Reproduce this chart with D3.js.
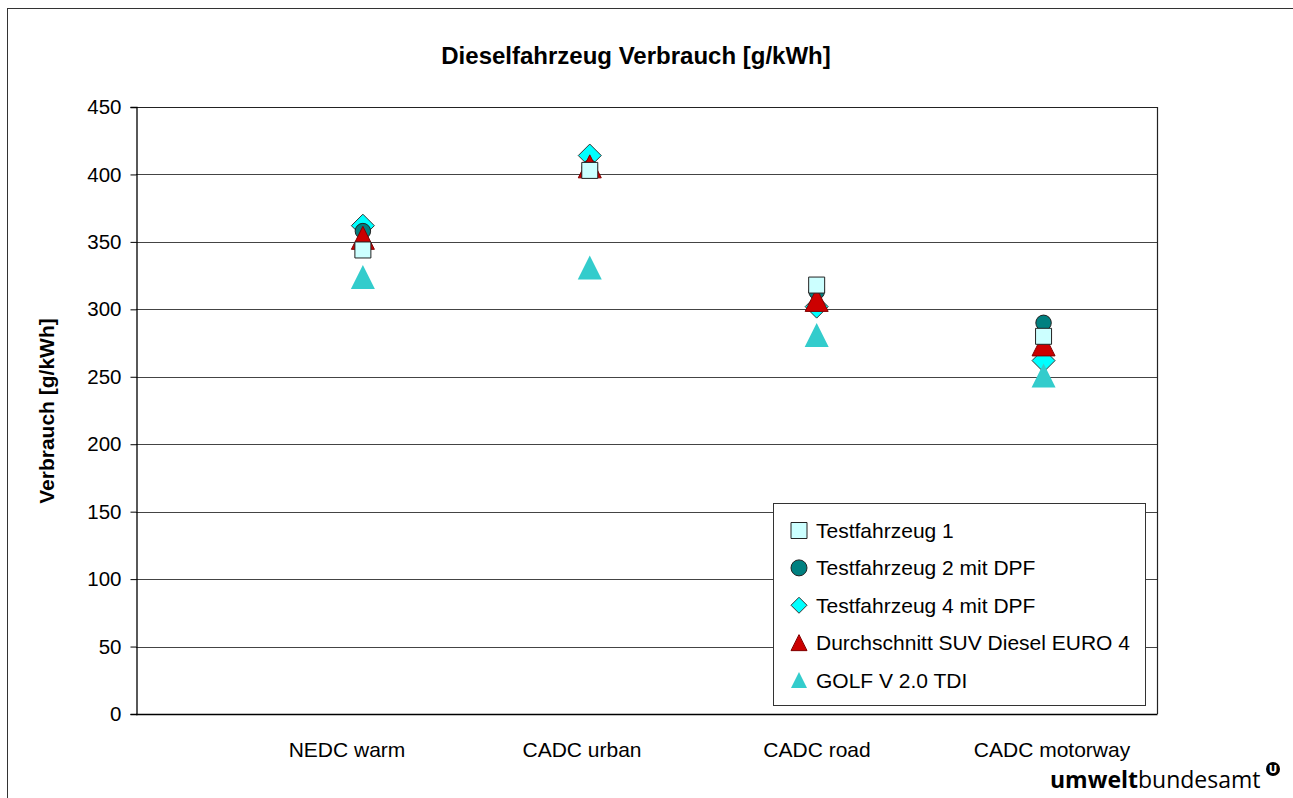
<!DOCTYPE html>
<html>
<head>
<meta charset="utf-8">
<script src="https://cdn.jsdelivr.net/npm/d3@7"></script>
<style>
html,body{margin:0;padding:0;background:#fff;}
svg{display:block;font-family:"Liberation Sans",Arial,sans-serif;}
</style>
</head>
<body>
<svg id="chart" width="1293" height="798"></svg>
<script>
const categories = ["NEDC warm", "CADC urban", "CADC road", "CADC motorway"];
const seriesNames = ["Testfahrzeug 1", "Testfahrzeug 2 mit DPF", "Testfahrzeug 4 mit DPF", "Durchschnitt SUV Diesel EURO 4", "GOLF V 2.0 TDI"];
const testfahrzeug1 = [344, 403, 318, 280];
const testfahrzeug2 = [358, 405, 313, 290];
const testfahrzeug4 = [362, 414, 302, 262];
const durchschnittSUV = [353, 406, 307, 274];
const golfV = [324, 331, 281, 251];
const yTicks = [0, 50, 100, 150, 200, 250, 300, 350, 400, 450];

const svg = d3.select("#chart");
const W = 1293, H = 798;
const plot = {left: 136, right: 1157, top: 107, bottom: 714};

const x = d3.scaleLinear().domain([-1, 3.5]).range([plot.left, plot.right]);
const xLabel = d3.scaleLinear().domain([0, 3]).range([347, 1052]);
const y = d3.scaleLinear().domain([0, 450]).range([plot.bottom, plot.top]);

// outer chart border
svg.append("rect").attr("x", 7.5).attr("y", 8.5).attr("width", W + 10).attr("height", H + 10)
  .attr("fill", "#fff").attr("stroke", "#333").attr("stroke-width", 1);

// title
svg.append("text").attr("x", 636).attr("y", 64).attr("text-anchor", "middle")
  .attr("font-weight", "bold").attr("font-size", 24).attr("fill", "#000")
  .text("Dieselfahrzeug Verbrauch [g/kWh]");

// gridlines
svg.append("g").selectAll("line").data(yTicks.filter(d => d > 0 && d < 450)).join("line")
  .attr("x1", plot.left).attr("x2", plot.right)
  .attr("y1", d => Math.round(y(d)) + 0.5).attr("y2", d => Math.round(y(d)) + 0.5)
  .attr("stroke", "#444").attr("stroke-width", 1);

// plot border top/right
svg.append("path")
  .attr("d", `M${plot.left},${plot.top + 0.5}H${plot.right + 0.5}V${plot.bottom}`)
  .attr("fill", "none").attr("stroke", "#222").attr("stroke-width", 1.2);

// y axis
const yAxis = d3.axisLeft(y).tickValues(yTicks).tickSize(6).tickPadding(9).tickFormat(d3.format("d"));
const gy = svg.append("g").attr("transform", `translate(${plot.left + 0.5},0)`).call(yAxis);
gy.select(".domain").attr("stroke", "#000").attr("stroke-width", 1.3);
gy.selectAll(".tick line").attr("stroke", "#000");
gy.selectAll(".tick text").attr("font-size", 20.5).attr("font-family", "Liberation Sans, Arial, sans-serif").attr("fill", "#000");

// x axis line
svg.append("line").attr("x1", plot.left).attr("x2", plot.right + 0.5)
  .attr("y1", plot.bottom + 0.5).attr("y2", plot.bottom + 0.5)
  .attr("stroke", "#000").attr("stroke-width", 1.3);

// x labels
svg.append("g").selectAll("text").data(categories).join("text")
  .attr("x", (d, i) => xLabel(i)).attr("y", 757).attr("text-anchor", "middle")
  .attr("font-size", 21).attr("fill", "#000").text(d => d);

// y axis title
svg.append("text").attr("transform", `translate(54,411) rotate(-90)`)
  .attr("text-anchor", "middle").attr("font-weight", "bold").attr("font-size", 21)
  .attr("fill", "#000").text("Verbrauch [g/kWh]");

// marker shapes
function markerPath(type, s) {
  if (type === "square") return `M${-s/2},${-s/2}h${s}v${s}h${-s}Z`;
  if (type === "diamond") return `M0,${-s/2}L${s/2},0L0,${s/2}L${-s/2},0Z`;
  if (type === "triangle") return `M0,${-s/2}L${s/2},${s/2}L${-s/2},${s/2}Z`;
  if (type === "circle") { const r = s/2; return `M${r},0A${r},${r} 0 1,1 ${-r},0A${r},${r} 0 1,1 ${r},0Z`; }
}

const series = [
  {name: seriesNames[0], values: testfahrzeug1, type: "square", size: 16, lsize: 16, fill: "#CCFFFF", stroke: "#222"},
  {name: seriesNames[1], values: testfahrzeug2, type: "circle", size: 15.5, lsize: 16, fill: "#008080", stroke: "#222"},
  {name: seriesNames[2], values: testfahrzeug4, type: "diamond", size: 23, lsize: 16, fill: "#00FFFF", stroke: "#333"},
  {name: seriesNames[3], values: durchschnittSUV, type: "triangle", size: 23, lsize: 16, fill: "#CC0000", stroke: "#800000"},
  {name: seriesNames[4], values: golfV, type: "triangle", size: 24, lsize: 16, fill: "#33CCCC", stroke: "none"}
];

// draw order (back to front): diamond, circle, red triangle, square, golf
const drawOrder = [2, 1, 3, 0, 4];
drawOrder.forEach(si => {
  const s = series[si];
  svg.append("g").selectAll("path").data(s.values).join("path")
    .attr("transform", (d, i) => `translate(${x(i)},${y(d)})`)
    .attr("d", markerPath(s.type, s.size))
    .attr("fill", s.fill).attr("stroke", s.stroke).attr("stroke-width", 1);
});

// legend
const lg = svg.append("g");
lg.append("rect").attr("x", 773.5).attr("y", 503.5).attr("width", 372).attr("height", 202)
  .attr("fill", "#fff").attr("stroke", "#333").attr("stroke-width", 1);
const rowY = d3.scaleLinear().domain([0, 4]).range([530.5, 680]);
series.forEach((s, i) => {
  lg.append("path").attr("transform", `translate(799,${rowY(i)})`)
    .attr("d", markerPath(s.type, s.lsize))
    .attr("fill", s.fill).attr("stroke", s.stroke).attr("stroke-width", 1);
  lg.append("text").attr("x", 816).attr("y", rowY(i)).attr("dy", "0.36em")
    .attr("font-size", 21).attr("fill", "#000").text(s.name);
});

// logo
const logo = svg.append("text").attr("x", 1050).attr("y", 788)
  .attr("font-family", "Open Sans, DejaVu Sans, sans-serif").attr("font-size", 23).attr("fill", "#000");
logo.append("tspan").attr("font-weight", "bold").text("umwelt");
logo.append("tspan").attr("font-weight", "normal").text("bundesamt");
svg.append("circle").attr("cx", 1273).attr("cy", 769).attr("r", 7).attr("fill", "#000");
svg.append("text").attr("x", 1273).attr("y", 773).attr("text-anchor", "middle")
  .attr("font-size", 10.5).attr("font-weight", "bold").attr("fill", "#fff")
  .attr("font-family", "DejaVu Sans, sans-serif").text("U");
</script>
</body>
</html>
